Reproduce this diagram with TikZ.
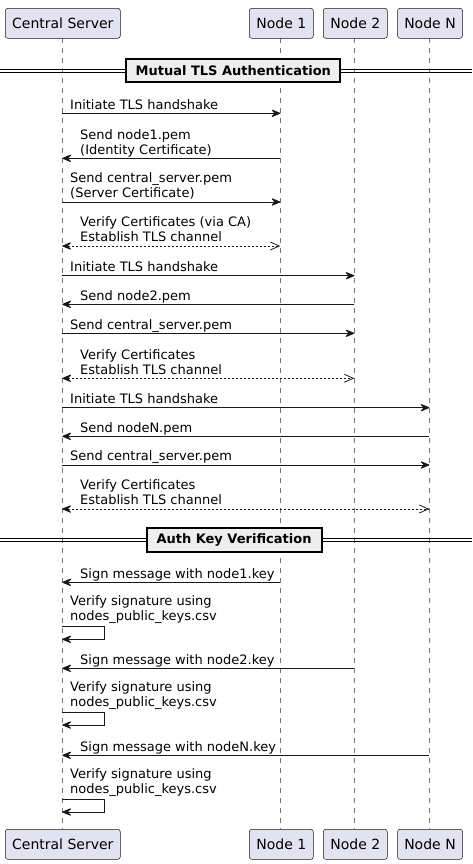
\documentclass[tikz,border=0pt]{standalone}
\usepackage{fontspec}
\setmainfont{DejaVu Sans}
\usetikzlibrary{arrows.meta}
\definecolor{partfill}{HTML}{E2E2F0}
\definecolor{partline}{HTML}{181818}
\definecolor{divfill}{HTML}{EEEEEE}
\tikzset{
  x=1pt, y=-1pt,
  partbox/.style={draw=partline, line width=0.5pt, fill=partfill, rounded corners=2.5pt,
    minimum height=30pt, inner sep=0pt, font=\fontsize{14}{16}\selectfont},
  lifeline/.style={draw=partline!60, line width=0.5pt, dash pattern=on 5pt off 5pt},
  divline/.style={draw=black, line width=1pt},
  divbox/.style={draw=black, line width=2pt, fill=divfill, inner sep=0pt,
    minimum height=23pt, font=\fontsize{13}{15}\bfseries\selectfont},
  msgtext/.style={font=\fontsize{13}{15}\selectfont, align=left, inner sep=0pt,
    anchor=south west, text depth=0pt},
  tipfilled/.tip={Stealth[length=11pt,width=9pt,inset=4.5pt,round]},
  msgarrow/.style={draw=partline, line width=1pt, -tipfilled},
  replyarrow/.style={draw=partline, line width=1pt, dash pattern=on 2pt off 2pt,
    tipfilled-{Straight Barb[length=9pt,width=8pt,line width=0.8pt]}},
  selfarrow/.style={draw=partline, line width=1pt, -tipfilled}
}
\begin{document}
\begin{tikzpicture}
\useasboundingbox (0,0) rectangle (472,864);
% lifeline x positions
\coordinate (L0) at (62.3,0);
\coordinate (L1) at (280.3,0);
\coordinate (L2) at (354.3,0);
\coordinate (L3) at (429.3,0);
% lifelines
\draw[lifeline] (L0 |- 0,38) -- (L0 |- 0,829);
\draw[lifeline] (L1 |- 0,38) -- (L1 |- 0,829);
\draw[lifeline] (L2 |- 0,38) -- (L2 |- 0,829);
\draw[lifeline] (L3 |- 0,38) -- (L3 |- 0,829);
% participants top
\node[partbox, minimum width=115pt] (csT) at (62.8,23.3) {Central Server};
\node[partbox, minimum width=64pt] (n1T) at (281.3,23.3) {Node 1};
\node[partbox, minimum width=64pt] (n2T) at (355.3,23.3) {Node 2};
\node[partbox, minimum width=65pt] (nNT) at (430,23.3) {Node N};
% participants bottom
\node[partbox, minimum width=115pt] (csB) at (62.8,844.3) {Central Server};
\node[partbox, minimum width=64pt] (n1B) at (281.3,844.3) {Node 1};
\node[partbox, minimum width=64pt] (n2B) at (355.3,844.3) {Node 2};
\node[partbox, minimum width=65pt] (nNB) at (430,844.3) {Node N};
% divider 1
\coordinate (d1l) at (0,70.8);
\coordinate (d1r) at (472,70.8);
\draw[divline] ([yshift=-1.5pt]d1l) -- ([yshift=-1.5pt]d1r);
\draw[divline] ([yshift=1.5pt]d1l) -- ([yshift=1.5pt]d1r);
\node[divbox, minimum width=214pt] (div1) at (233.3,70.5) {Mutual TLS Authentication};
% divider 2
\coordinate (d2l) at (0,539.7);
\coordinate (d2r) at (472,539.7);
\draw[divline] ([yshift=-1.5pt]d2l) -- ([yshift=-1.5pt]d2r);
\draw[divline] ([yshift=1.5pt]d2l) -- ([yshift=1.5pt]d2r);
\node[divbox, minimum width=175pt, minimum height=24pt] (div2) at (234,539.7) {Auth Key Verification};

% messages
\draw[msgarrow] (L0 |- 0,113.3) -- (L1 |- 0,113.3);
\node[msgtext] (t1) at (70,109.3) {Initiate TLS handshake};

\draw[msgarrow] (L1 |- 0,158.3) -- (L0 |- 0,158.3);
\node[msgtext] (t2) at (80,154.3) {Send node1.pem\\(Identity Certificate)};

\draw[msgarrow] (L0 |- 0,202) -- (L1 |- 0,202);
\node[msgtext] (t3) at (70,198) {Send central\_server.pem\\(Server Certificate)};

\draw[replyarrow] (L0 |- 0,246) -- (L1 |- 0,246);
\node[msgtext] (t4) at (80,242) {Verify Certificates (via CA)\\Establish TLS channel};

\draw[msgarrow] (L0 |- 0,275.7) -- (L2 |- 0,275.7);
\node[msgtext] (t5) at (70,271.7) {Initiate TLS handshake};

\draw[msgarrow] (L2 |- 0,304.3) -- (L0 |- 0,304.3);
\node[msgtext] (t6) at (80,300.3) {Send node2.pem};

\draw[msgarrow] (L0 |- 0,333.3) -- (L2 |- 0,333.3);
\node[msgtext] (t7) at (70,329.3) {Send central\_server.pem};

\draw[replyarrow] (L0 |- 0,378.3) -- (L2 |- 0,378.3);
\node[msgtext] (t8) at (80,374.3) {Verify Certificates\\Establish TLS channel};

\draw[msgarrow] (L0 |- 0,407.7) -- (L3 |- 0,407.7);
\node[msgtext] (t9) at (70,403.7) {Initiate TLS handshake};

\draw[msgarrow] (L3 |- 0,436.3) -- (L0 |- 0,436.3);
\node[msgtext] (t10) at (80,432.3) {Send nodeN.pem};

\draw[msgarrow] (L0 |- 0,465) -- (L3 |- 0,465);
\node[msgtext] (t11) at (70,461) {Send central\_server.pem};

\draw[replyarrow] (L0 |- 0,509) -- (L3 |- 0,509);
\node[msgtext] (t12) at (80,505) {Verify Certificates\\Establish TLS channel};

% auth key verification
\draw[msgarrow] (L1 |- 0,582.3) -- (L0 |- 0,582.3);
\node[msgtext] (t13) at (80,578.3) {Sign message with node1.key};

\draw[selfarrow] (L0 |- 0,626.7) -| (104.3,639.3) -- (L0 |- 0,639.3);
\node[msgtext] (t14) at (70,620.5) {Verify signature using\\nodes\_public\_keys.csv};

\draw[msgarrow] (L2 |- 0,668.3) -- (L0 |- 0,668.3);
\node[msgtext] (t15) at (80,664.3) {Sign message with node2.key};

\draw[selfarrow] (L0 |- 0,712.3) -| (104.3,725) -- (L0 |- 0,725);
\node[msgtext] (t16) at (70,706.3) {Verify signature using\\nodes\_public\_keys.csv};

\draw[msgarrow] (L3 |- 0,755.3) -- (L0 |- 0,755.3);
\node[msgtext] (t17) at (80,751.3) {Sign message with nodeN.key};

\draw[selfarrow] (L0 |- 0,799.5) -| (104.3,812) -- (L0 |- 0,812);
\node[msgtext] (t18) at (70,793.5) {Verify signature using\\nodes\_public\_keys.csv};
\end{tikzpicture}
\end{document}
